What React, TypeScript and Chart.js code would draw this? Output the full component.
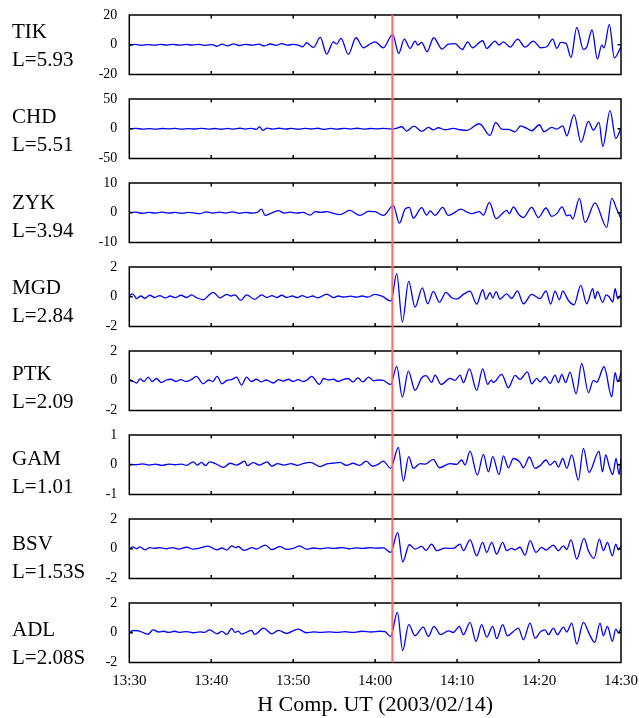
import React, { useEffect, useRef } from 'react';
import { Chart, registerables } from 'chart.js';

Chart.register(...registerables);

// ---------- data ----------
const STATIONS = ['TIK', 'CHD', 'ZYK', 'MGD', 'PTK', 'GAM', 'BSV', 'ADL'];
const L_VALUES = ['L=5.93', 'L=5.51', 'L=3.94', 'L=2.84', 'L=2.09', 'L=1.01', 'L=1.53S', 'L=2.08S'];
const Y_LIMITS = [20, 50, 10, 2, 2, 1, 2, 2];
const TIME_TICKS = [0, 10, 20, 30, 40, 50, 60]; // minutes after 13:30
const TIME_LABELS = ['13:30', '13:40', '13:50', '14:00', '14:10', '14:20', '14:30'];
const EVENT_MINUTE = 32.1;
const X_TITLE = 'H Comp. UT (2003/02/14)';

// [minutes after 13:30, nT]
const tikSeries: [number, number][] = [
  [0, -0.3], [0.7, 0.2], [1.5, -0.4], [2.3, 0.1], [3.0, -0.3], [3.8, 0.2], [4.6, -0.2], [5.3, 0.3], [6.1, -0.3], [6.9, 0.2],
  [7.7, -0.2], [8.5, 0.3], [9.3, -0.4], [10.1, 0.1], [10.7, -1.0], [11.3, 0.4], [12.0, -0.7], [12.7, 0.6], [13.4, -0.5], [14.2, 0.3],
  [15.0, -0.3], [15.8, 0.4], [16.5, -0.8], [17.2, 0.5], [17.9, -0.4], [18.6, 0.7], [19.3, -0.3], [20.0, 0.3], [20.6, -0.2],
  [21.16, -1.35], [21.64, 1.35], [22.46, -1.8], [23.31, 4.95], [24.08, -6.3], [24.9, 2.0], [25.3, 0.45], [25.83, 4.3], [26.73, -6.5],
  [27.66, 4.7], [28.56, -2.0], [29.17, -0.2], [29.98, 2.0], [31.0, -2.0], [32.14, 7.0], [32.87, -5.85], [33.56, 3.8], [34.26, -2.5],
  [34.87, 2.5], [35.19, -0.2], [35.68, 1.6], [36.33, -4.7], [37.14, 4.7], [38.16, -2.9], [38.93, 0.45], [39.75, 0.7], [40.64, -3.2],
  [41.29, 2.0], [41.86, -2.0], [43.12, 2.7], [43.61, -2.5], [44.63, 2.5], [45.12, -0.2], [45.65, 2.0], [46.46, -1.6], [47.4, 3.8],
  [48.29, -1.6], [49.31, 2.5], [50.2, -2.0], [50.94, -1.35], [51.67, 3.8], [52.16, -2.5], [52.64, 1.6], [53.3, 0.9], [53.9, -8.55],
  [54.6, 11.7], [55.41, -3.15], [55.82, -1.6], [56.47, 9.9], [57.12, -9.7], [57.65, -0.2], [57.93, -2.0], [58.58, 13.7], [59.19, -8.8],
  [60, -1.35],
];

const chdSeries: [number, number][] = [
  [0, 0], [0.8, 0.5], [1.6, -0.5], [2.4, 0.3], [3.2, -0.6], [4.0, 0.4], [4.8, -0.3], [5.6, 0.5], [6.4, -0.6], [7.2, 0.3],
  [8.0, -0.4], [8.8, 0.6], [9.6, -0.5], [10.4, 0.4], [11.2, -0.8], [12.0, 0.5], [12.7, -0.6], [13.5, 0.8], [14.2, -0.5], [14.9, 0.6],
  [15.5, -1.0], [15.9, 3.2], [16.3, -2.6], [16.8, 1.2], [17.5, -0.5], [18.3, 0.8], [19.0, -0.6], [19.8, 0.6], [20.6, -0.8], [21.4, 0.5],
  [22.2, -0.4], [23.0, 0.8], [23.8, -1.0], [24.6, 0.5], [25.4, -0.7], [26.2, 0.7], [27.0, -0.5], [27.8, 0.8], [28.6, -0.6], [29.4, 0.4],
  [30.2, -0.3], [31.0, 0.5], [31.8, -0.2], [32.5, 0.3],
  [33.24, 3.4], [33.85, -3.9], [34.74, 4.5], [35.68, -4.5], [36.49, 2.2], [37.1, -1.7], [37.71, 1.7], [38.53, -1.7], [39.54, 0.6],
  [40.36, -1.7], [41.17, -2.8], [42.72, 8.4], [44.02, -11.2], [44.71, 10.7], [45.44, -0.6], [46.26, -1.2], [47.07, -5.0], [47.76, 5.0],
  [48.5, 0.6], [49.1, -3.4], [50.04, 6.7], [50.61, -5.0], [51.55, 2.2], [52.16, -0.6], [52.89, 5.0], [53.38, -11.8], [54.27, 23.6],
  [55.13, -23.0], [56.02, 12.4], [56.63, -2.2], [57.32, 10.7], [57.77, -29.8], [58.67, 30.3], [59.36, -16.3], [60, 0.6],
];

const zykSeries: [number, number][] = [
  [0, 0.1], [0.8, 0.2], [1.6, -0.2], [2.4, 0.1], [3.2, -0.1], [4.0, 0.2], [4.8, -0.1], [5.6, 0.1], [6.4, -0.2], [7.2, 0.1],
  [8.0, -0.1], [8.6, -0.3], [9.4, 0.3], [10.2, -0.1], [11.0, 0.2], [11.8, -0.1], [12.6, 0.3], [13.4, -0.2], [14.2, 0.1], [15.0, -0.1],
  [15.6, 0.1], [16.15, 1.2], [16.56, -0.9], [17.2, -0.3], [18.2, 0.7], [18.9, -0.1], [19.6, 0.2], [20.4, -0.1], [21.2, 0.1],
  [22.05, -0.8], [22.7, 0.4], [23.4, 0.1], [24.1, 0.4], [24.8, -0.1], [25.7, -0.6], [26.9, 0.8], [28.15, -0.9], [29.17, 0.45],
  [29.98, 0.35], [31.0, -0.9],
  [32.22, 2.4], [32.95, -3.5], [33.65, 1.2], [34.17, 1.8], [34.66, -1.8], [35.68, 1.7], [36.29, -0.8], [36.7, 0.6], [37.31, -0.9],
  [38.24, 1.8], [38.93, -0.9], [39.54, -0.2], [40.48, 1.2], [41.17, 0.3], [41.78, -0.3], [42.72, 0.4], [43.2, -0.8], [43.94, 3.5],
  [44.75, -2.0], [45.65, 0.1], [46.05, 0.8], [46.38, -0.3], [46.87, 2.0], [47.48, -0.4], [48.09, -1.6], [49.1, 1.8], [49.92, -1.6],
  [50.85, 1.6], [51.55, -1.2], [52.16, -0.3], [52.81, 2.0], [53.38, -1.0], [53.78, -0.7], [54.11, -2.1], [54.92, 4.8], [55.61, -3.3],
  [56.83, 3.3], [58.26, -4.9], [58.87, 4.8], [59.48, 1.2], [60, -2.0],
];

const mgdSeries: [number, number][] = [
  [0, 0.05], [0.4, 0.2], [0.9, -0.12], [1.4, 0.05], [1.9, -0.1], [2.5, 0.1], [3.1, -0.05], [3.7, 0.08], [4.4, -0.08], [5.0, 0.05],
  [5.6, -0.06], [6.3, 0.1], [7.0, -0.05], [7.6, 0.12], [8.2, -0.06], [9.03, -0.2], [9.6, 0.05], [10.25, 0.3], [11.07, -0.07],
  [11.9, 0.16], [12.4, 0.05], [12.9, 0.13], [13.6, -0.25], [14.3, 0.13], [15.3, -0.18], [16.15, 0.13], [16.8, -0.05], [17.4, 0.08],
  [18.0, -0.05], [18.6, 0.1], [19.2, -0.05], [19.9, 0.05], [20.5, -0.06], [21.1, 0.08], [21.7, -0.05], [22.4, 0.05], [23.0, -0.08],
  [24.1, 0.18], [24.9, -0.06], [25.5, 0.05], [26.2, -0.02], [27.0, 0.04], [27.7, -0.03], [28.4, 0.05], [29.1, -0.02], [29.98, 0.16],
  [30.9, 0.02],
  [31.94, -0.3], [32.63, 1.55], [33.32, -1.7], [34.09, 1.03], [34.87, -0.7], [35.76, 0.6], [36.41, -0.47], [37.1, 0.36], [37.84, -0.36],
  [38.65, 0.29], [39.34, -0.07], [39.95, -0.16], [40.77, 0.16], [41.58, 0.38], [42.39, -0.5], [43.12, 0.47], [43.53, -0.18],
  [44.02, 0.27], [44.35, -0.09], [44.75, 0.34], [45.24, -0.16], [46.05, 0.2], [46.66, -0.11], [47.36, 0.4], [48.09, -0.47],
  [49.1, 0.16], [50.12, -0.13], [50.85, 0.4], [51.42, -0.5], [51.95, 0.38], [52.48, -0.2], [52.89, 0.38], [53.58, -0.25],
  [54.27, -0.54], [55.09, 0.76], [55.82, -0.47], [56.55, 0.54], [56.83, -0.13], [57.12, 0.36], [57.77, -0.38], [58.18, 0.13],
  [58.58, -0.02], [58.99, -0.36], [59.28, 0.54], [59.6, -0.13], [60, 0.16],
];

const ptkSeries: [number, number][] = [
  [0, 0.1], [0.5, -0.05], [0.9, -0.15], [1.3, 0.12], [1.8, -0.05], [2.3, 0.25], [2.8, -0.05], [3.3, 0.15], [3.9, -0.12], [4.5, 0.05],
  [5.1, 0.1], [5.7, -0.05], [6.3, 0.08], [6.9, -0.05], [7.5, 0.05], [8.2, 0.3], [9.0, -0.2], [9.7, 0.05], [10.2, -0.05], [10.7, 0.3],
  [11.3, -0.2], [11.9, 0.02], [12.5, 0.08], [13.1, 0.25], [13.7, -0.3], [14.3, 0.25], [14.9, -0.05], [15.5, 0.1], [16.1, -0.08],
  [16.7, 0.05], [17.6, -0.15], [18.2, 0.08], [18.8, -0.02], [19.4, 0.1], [20.0, -0.05], [20.6, 0.08], [21.2, -0.05], [21.7, 0.05],
  [22.25, 0.3], [23.2, -0.25], [23.7, 0.15], [24.3, 0.05], [24.9, 0.1], [25.5, -0.05], [26.1, 0.08], [26.7, 0.15], [27.3, -0.08],
  [27.9, 0.2], [28.5, -0.08], [29.2, 0.25], [29.8, 0.0], [30.4, 0.05], [31.0, 0.02],
  [31.9, -0.25], [32.63, 0.97], [33.32, -1.1], [34.05, 0.65], [34.87, -0.65], [35.68, 0.2], [36.21, 0.34], [36.9, -0.11],
  [37.31, 0.38], [38.04, -0.25], [39.14, 0.16], [39.75, 0.02], [40.36, 0.38], [40.77, -0.13], [41.5, 0.8], [42.39, -0.65],
  [43.12, 0.8], [43.73, -0.25], [44.14, 0.04], [44.43, -0.11], [45.44, 0.43], [46.26, -0.47], [47.07, 0.36], [47.68, 0.09],
  [48.58, 0.6], [49.1, -0.2], [49.72, 0.16], [50.12, -0.07], [50.73, 0.27], [51.34, -0.18], [51.95, 0.38], [52.36, -0.13],
  [52.77, 0.43], [53.25, -0.13], [53.78, 0.58], [54.52, -0.88], [55.21, 1.17], [56.02, -0.8], [56.63, 0.02], [57.04, -0.1],
  [57.93, 0.94], [58.87, -1.08], [59.28, 0.54], [59.6, -0.07], [60, 0.52],
];

const gamSeries: [number, number][] = [
  [0, 0.02], [0.8, 0.0], [1.6, 0.03], [2.4, -0.01], [3.2, 0.02], [4.0, -0.02], [4.8, 0.02], [5.6, 0.0], [6.4, 0.02], [7.0, -0.02],
  [7.8, 0.1], [8.3, -0.01], [8.8, 0.08], [9.3, -0.03], [9.8, 0.1], [10.5, 0.04], [11.5, -0.09], [12.3, 0.05], [13.1, -0.01],
  [14.1, 0.12], [14.4, -0.03], [15.1, 0.07], [15.9, -0.01], [16.8, 0.1], [17.4, -0.05], [18.1, 0.04], [18.9, -0.01], [19.7, 0.04],
  [20.5, -0.02], [21.3, 0.05], [22.1, 0.08], [23.3, -0.06], [24.1, 0.03], [24.8, 0.05], [25.7, 0.08], [26.5, -0.02], [27.3, 0.05],
  [28.1, -0.02], [28.9, 0.12], [29.7, -0.05], [30.4, 0.02], [31.0, 0.12],
  [31.9, -0.12], [32.83, 0.58], [33.44, -0.55], [34.09, 0.27], [34.66, -0.12], [35.48, 0.04], [36.09, 0.02], [37.1, 0.18],
  [37.84, -0.1], [39.14, 0.04], [39.95, 0.01], [40.56, 0.16], [40.97, -0.01], [41.58, 0.46], [42.47, -0.35], [43.2, 0.35],
  [43.82, -0.24], [44.35, 0.27], [45.12, -0.33], [45.65, 0.3], [46.26, -0.1], [46.87, 0.21], [47.68, 0.08], [48.09, -0.1],
  [48.82, 0.26], [49.51, -0.12], [50.12, -0.03], [50.85, 0.16], [51.34, -0.01], [51.95, 0.12], [52.36, -0.08], [52.89, 0.21],
  [53.38, -0.12], [53.99, 0.33], [54.8, -0.52], [55.41, 0.55], [56.1, -0.26], [57.32, 0.46], [57.73, -0.24], [58.14, 0.33],
  [58.58, -0.07], [58.99, -0.33], [59.4, 0.21], [59.77, -0.33], [60, 0.21],
];

const bsvSeries: [number, number][] = [
  [0, -0.05], [0.4, 0.13], [0.9, 0.0], [1.3, 0.13], [1.9, -0.07], [2.5, 0.08], [3.0, 0.02], [3.7, 0.08], [4.5, 0.0], [5.3, 0.07],
  [6.0, -0.03], [7.0, 0.1], [7.8, -0.03], [8.6, 0.04], [9.6, 0.18], [10.7, -0.07], [11.3, 0.05], [11.9, -0.09], [12.5, 0.2],
  [13.0, 0.07], [13.3, 0.15], [14.0, -0.11], [15.0, 0.07], [15.5, -0.02], [16.6, 0.25], [17.4, -0.06], [18.4, 0.15], [19.2, -0.04],
  [20.1, 0.05], [20.8, 0.2], [21.6, -0.02], [22.5, 0.05], [23.3, 0.0], [24.2, 0.06], [25.0, 0.02], [26.0, 0.08], [26.8, 0.0],
  [27.7, 0.06], [28.5, 0.02], [29.4, 0.08], [30.1, 0.04], [31.0, 0.06],
  [31.9, -0.25], [32.75, 1.1], [33.36, -0.88], [34.17, 0.27], [34.87, -0.02], [35.68, 0.16], [36.21, -0.11], [36.9, 0.31],
  [37.51, -0.13], [38.53, 0.04], [39.54, 0.02], [40.36, 0.31], [40.77, -0.13], [41.58, 0.6], [42.39, -0.47], [43.12, 0.43],
  [43.61, -0.25], [44.22, 0.43], [44.83, -0.36], [45.56, 0.43], [46.05, -0.13], [46.66, 0.02], [47.07, -0.07], [47.68, 0.1],
  [48.29, -0.43], [48.9, 0.54], [49.63, -0.25], [50.33, 0.09], [50.85, -0.09], [51.75, 0.25], [52.36, -0.13], [52.97, 0.2],
  [53.38, -0.05], [53.9, 0.6], [54.6, -0.7], [55.49, 0.7], [56.02, -0.13], [56.71, -0.65], [57.36, 0.65], [57.85, -0.13],
  [58.34, 0.43], [58.95, -0.47], [59.36, 0.31], [59.68, -0.07], [60, 0.2],
];

const adlSeries: [number, number][] = [
  [0, 0.0], [0.5, 0.15], [1.1, 0.12], [1.5, 0.05], [2.3, -0.1], [2.9, 0.2], [3.6, 0.05], [4.2, 0.1], [4.8, 0.03], [5.5, 0.1],
  [6.2, 0.03], [7.0, 0.08], [7.8, 0.0], [8.6, 0.06], [9.2, 0.02], [9.8, 0.2], [10.7, -0.07], [11.3, 0.09], [11.9, -0.11], [12.5, 0.29],
  [12.9, 0.02], [13.3, 0.11], [13.7, -0.09], [14.9, 0.16], [15.3, -0.11], [16.4, 0.31], [17.4, -0.07], [18.2, 0.16], [19.2, -0.04],
  [20.6, 0.25], [21.6, 0.0], [22.5, 0.06], [23.3, 0.02], [24.4, 0.06], [25.3, 0.02], [26.3, 0.07], [27.3, 0.02], [28.4, 0.1],
  [29.5, 0.05], [30.6, 0.1], [31.2, 0.07],
  [31.9, -0.25], [32.71, 1.37], [33.36, -1.2], [34.09, 0.54], [34.87, -0.2], [35.88, 0.38], [36.49, -0.25], [37.18, 0.43],
  [38.0, -0.13], [38.93, 0.13], [39.54, 0.02], [40.28, 0.43], [40.77, -0.13], [41.58, 0.7], [42.31, -0.58], [43.0, 0.54],
  [43.61, -0.29], [44.35, 0.43], [44.83, -0.4], [45.56, 0.54], [46.14, -0.2], [46.87, 0.09], [47.48, 0.31], [48.09, -0.47],
  [48.9, 0.65], [49.51, -0.36], [50.2, 0.09], [50.73, 0.2], [51.14, -0.13], [51.75, 0.31], [52.24, -0.13], [52.97, 0.38],
  [53.38, 0.05], [53.99, 0.65], [54.6, -0.76], [55.41, 0.7], [56.14, -0.09], [56.79, -0.65], [57.44, 0.65], [57.85, -0.2],
  [58.34, 0.43], [58.95, -0.58], [59.36, 0.25], [59.68, 0.02], [60, 0.31],
];

const SERIES = [tikSeries, chdSeries, zykSeries, mgdSeries, ptkSeries, gamSeries, bsvSeries, adlSeries];

// ---------- layout ----------
const FONT = '"Liberation Serif", "Times New Roman", serif';
const PAGE_W = 639;
const PAGE_H = 718;
const PANEL_STEP = 84;
const BOX_TOP = 15;
const BOX_H = 59.5;
const BOX_LEFT = 129.3;
const BOX_RIGHT_PAD = 18;
const LABEL_STEP = 85.4;

function zeroPadding(s: any) {
  s.paddingTop = 0;
  s.paddingBottom = 0;
  s.paddingLeft = 0;
  s.paddingRight = 0;
}

function Panel({ index }: { index: number }) {
  const ref = useRef<HTMLCanvasElement>(null);
  const last = index === SERIES.length - 1;
  const top = index * PANEL_STEP;
  const height = last ? PAGE_H - top : PANEL_STEP;

  useEffect(() => {
    const lim = Y_LIMITS[index];
    const framePlugin = {
      id: 'frameAndEvent',
      afterDatasetsDraw(chart: any) {
        const { ctx, chartArea } = chart;
        const { left, right, top: t, bottom } = chartArea;
        const xs = chart.scales.x;
        const ys = chart.scales.y;
        ctx.save();
        // frame
        ctx.strokeStyle = '#000';
        ctx.lineWidth = 1.5;
        ctx.strokeRect(left, t, right - left, bottom - t);
        ctx.beginPath();
        TIME_TICKS.slice(1, -1).forEach((v) => {
          const px = xs.getPixelForValue(v);
          ctx.moveTo(px, t);
          ctx.lineTo(px, t + 3.5);
          ctx.moveTo(px, bottom);
          ctx.lineTo(px, bottom - 3.5);
        });
        const py = ys.getPixelForValue(0);
        ctx.moveTo(left, py);
        ctx.lineTo(left + 3.5, py);
        ctx.moveTo(right, py);
        ctx.lineTo(right - 3.5, py);
        ctx.stroke();
        // event line
        const ex = xs.getPixelForValue(EVENT_MINUTE);
        ctx.strokeStyle = 'rgb(255,105,105)';
        ctx.lineWidth = 2;
        ctx.beginPath();
        ctx.moveTo(ex, index === 0 ? t : 0);
        ctx.lineTo(ex, last ? bottom : chart.height);
        ctx.stroke();
        ctx.restore();
      },
    };

    const chart = new Chart(ref.current as HTMLCanvasElement, {
      type: 'line',
      data: {
        datasets: [
          {
            data: SERIES[index].map(([x, y]) => ({ x, y })),
            borderColor: '#0000ff',
            borderWidth: 1.3,
            pointRadius: 0,
            cubicInterpolationMode: 'monotone',
            fill: false,
          } as any,
        ],
      },
      options: {
        responsive: false,
        animation: false,
        devicePixelRatio: 1,
        events: [],
        layout: { padding: { left: 0, right: BOX_RIGHT_PAD, top: BOX_TOP, bottom: last ? 0 : PANEL_STEP - BOX_TOP - BOX_H } },
        plugins: { legend: { display: false }, tooltip: { enabled: false } },
        scales: {
          x: {
            type: 'linear',
            min: 0,
            max: 60,
            display: last,
            afterBuildTicks: (s: any) => {
              s.ticks = TIME_TICKS.map((v) => ({ value: v }));
            },
            afterFit: (s: any) => {
              zeroPadding(s);
              if (last) s.height = PAGE_H - top - BOX_TOP - BOX_H;
            },
            grid: { display: false, drawTicks: false, tickLength: 0 },
            border: { display: false },
            ticks: {
              color: '#000',
              font: { family: FONT, size: 15 },
              padding: 10,
              maxRotation: 0,
              autoSkip: false,
              callback: (v: any) => {
                const i = TIME_TICKS.indexOf(Number(v));
                return i >= 0 ? TIME_LABELS[i] : '';
              },
            },
            title: {
              display: true,
              text: X_TITLE,
              color: '#000',
              font: { family: FONT, size: 22 },
              padding: { top: 0, bottom: 0 },
            },
          },
          y: {
            type: 'linear',
            min: -lim,
            max: lim,
            afterBuildTicks: (s: any) => {
              s.ticks = [-lim, 0, lim].map((v) => ({ value: v }));
            },
            afterFit: (s: any) => {
              zeroPadding(s);
              s.width = BOX_LEFT;
            },
            grid: { display: false, drawTicks: false, tickLength: 0 },
            border: { display: false },
            ticks: {
              color: '#000',
              font: { family: FONT, size: 14 },
              padding: 12,
              callback: (v: any) => String(v),
            },
          },
        },
      } as any,
      plugins: [framePlugin],
    });
    return () => chart.destroy();
  }, [index]);

  return (
    <canvas
      ref={ref}
      width={PAGE_W}
      height={height}
      style={{ position: 'absolute', left: 0, top, width: PAGE_W, height, display: 'block' }}
    />
  );
}

export default function App() {
  return (
    <div style={{ position: 'absolute', left: 0, top: 0, width: PAGE_W, height: PAGE_H, background: '#fff', overflow: 'hidden' }}>
      {SERIES.map((_, i) => (
        <Panel key={i} index={i} />
      ))}
      {STATIONS.map((name, i) => (
        <div
          key={name}
          style={{
            position: 'absolute',
            left: 12,
            top: 38 + LABEL_STEP * i - 21.1,
            fontFamily: FONT,
            fontSize: 21,
            lineHeight: '28px',
            color: '#000',
            whiteSpace: 'pre',
          }}
        >
          {name}
          <br />
          {L_VALUES[i]}
        </div>
      ))}
    </div>
  );
}
